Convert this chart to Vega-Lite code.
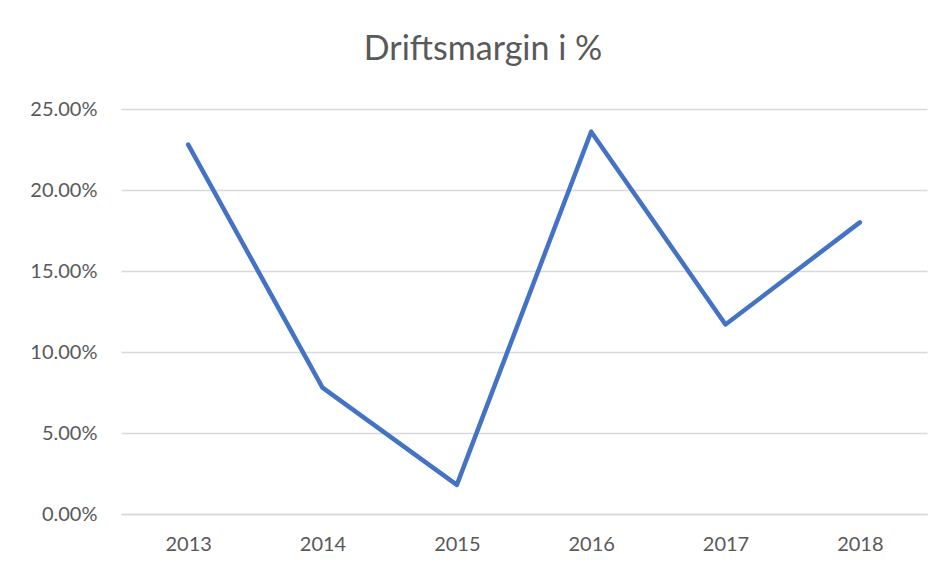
{
  "$schema": "https://vega.github.io/schema/vega-lite/v6.json",
  "width": 806,
  "height": 405,
  "autosize": {"type": "none"},
  "padding": {"left": 121, "top": 109, "right": 17, "bottom": 54},
  "background": "white",
  "title": {
    "text": "Driftsmargin i %",
    "font": "Lato",
    "fontSize": 34,
    "fontWeight": "normal",
    "color": "#595959",
    "anchor": "middle",
    "dx": -41,
    "offset": 5,
    "baseline": "alphabetic"
  },
  "data": {
    "values": [
      {"year": "2013", "value": 0.228},
      {"year": "2014", "value": 0.078},
      {"year": "2015", "value": 0.018},
      {"year": "2016", "value": 0.236},
      {"year": "2017", "value": 0.117},
      {"year": "2018", "value": 0.180}
    ]
  },
  "mark": {"type": "line", "color": "#4472c4", "strokeWidth": 4.5, "strokeCap": "round", "strokeJoin": "round"},
  "encoding": {
    "x": {
      "field": "year",
      "type": "ordinal",
      "scale": {"type": "point", "padding": 0.5},
      "axis": {
        "title": null,
        "labelAngle": 0,
        "labelFont": "Lato",
        "labelFontSize": 20,
        "labelColor": "#595959",
        "labelPadding": 20,
        "ticks": false,
        "domainColor": "#d9d9d9",
        "domainWidth": 1.5,
        "grid": false
      }
    },
    "y": {
      "field": "value",
      "type": "quantitative",
      "scale": {"domain": [0, 0.25], "nice": false},
      "axis": {
        "title": null,
        "format": ".2%",
        "values": [0, 0.05, 0.1, 0.15, 0.2, 0.25],
        "labelFont": "Lato",
        "labelFontSize": 20,
        "labelColor": "#595959",
        "labelPadding": 24,
        "ticks": false,
        "domain": false,
        "gridColor": "#d9d9d9",
        "gridWidth": 1.5
      }
    }
  },
  "config": {"view": {"stroke": null}}
}
